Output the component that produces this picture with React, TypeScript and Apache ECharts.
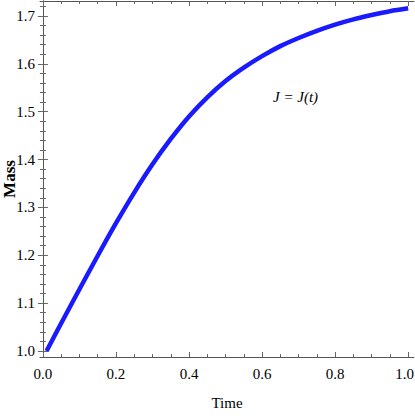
import React, { useEffect, useRef } from "react";
import * as echarts from "echarts";

const times = [0.01, 0.05, 0.1, 0.15, 0.2, 0.25, 0.3, 0.35, 0.4, 0.45, 0.5, 0.55, 0.6, 0.65, 0.7, 0.75, 0.8, 0.85, 0.9, 0.95, 1.0];
const mass = [1.0, 1.058, 1.129, 1.199, 1.267, 1.331, 1.39, 1.443, 1.49, 1.53, 1.564, 1.592, 1.616, 1.637, 1.654, 1.669, 1.682, 1.693, 1.702, 1.71, 1.716];

const xMajorTicks = [0, 0.2, 0.4, 0.6, 0.8, 1.0];
const xMinorTicks = [0.05, 0.1, 0.15, 0.25, 0.3, 0.35, 0.45, 0.5, 0.55, 0.65, 0.7, 0.75, 0.85, 0.9, 0.95];
const yMajorTicks = [1.0, 1.1, 1.2, 1.3, 1.4, 1.5, 1.6, 1.7];
const yMinorTicks = [
  1.02, 1.04, 1.06, 1.08, 1.12, 1.14, 1.16, 1.18, 1.22, 1.24, 1.26, 1.28,
  1.32, 1.34, 1.36, 1.38, 1.42, 1.44, 1.46, 1.48, 1.52, 1.54, 1.56, 1.58,
  1.62, 1.64, 1.66, 1.68, 1.72,
];

const xName = "Time";
const yName = "Mass";
const curveLabel = "J = J(t)";

const FONT = "Liberation Serif";
const FRAME = "#555555";
const TICK = "#666666";

const X_MIN = -0.008;
const X_MAX = 1.016;
const Y_MIN = 0.9875;
const Y_MAX = 1.7313;

export default function App() {
  const ref = useRef<HTMLDivElement>(null);

  useEffect(() => {
    if (!ref.current) return;
    const chart = echarts.init(ref.current, null, { renderer: "svg" });

    const baseX = (extra: any) => ({
      type: "value",
      min: X_MIN,
      max: X_MAX,
      splitLine: { show: false },
      ...extra,
    });
    const baseY = (extra: any) => ({
      type: "value",
      min: Y_MIN,
      max: Y_MAX,
      splitLine: { show: false },
      ...extra,
    });

    const hiddenLabel = { show: false };
    const richStyles = {
      s: { fontFamily: FONT, fontSize: 15, color: "#000" },
      e: { fontFamily: FONT, fontSize: 15, color: "#000", padding: [0, 7, 0, 0] },
    };

    chart.setOption({
      animation: false,
      backgroundColor: "#ffffff",
      textStyle: { fontFamily: FONT },
      grid: {
        left: 40,
        right: 1,
        top: 1,
        bottom: 59,
        containLabel: false,
        outerBoundsMode: "none",
      },
      xAxis: [
        baseX({
          position: "bottom",
          axisLine: { show: true, lineStyle: { color: FRAME, width: 1 } },
          axisTick: { show: true, inside: true, length: 5, customValues: xMajorTicks, lineStyle: { color: TICK } },
          axisLabel: {
            show: true,
            customValues: xMajorTicks,
            margin: 9,
            fontFamily: FONT,
            fontSize: 15,
            color: "#000",
            formatter: (v: number) =>
              (v === xMajorTicks[xMajorTicks.length - 1] ? "{e|" : "{s|") + v.toFixed(1) + "}",
            rich: richStyles,
          },
          name: xName,
          nameLocation: "middle",
          nameGap: 38,
          nameTextStyle: { fontFamily: FONT, fontSize: 15, color: "#000" },
        }),
        baseX({
          position: "bottom",
          axisLine: { show: false },
          axisTick: { show: true, inside: true, length: 3, customValues: xMinorTicks, lineStyle: { color: TICK } },
          axisLabel: hiddenLabel,
        }),
        baseX({
          position: "top",
          axisLine: { show: true, lineStyle: { color: FRAME, width: 1 } },
          axisTick: { show: true, inside: true, length: 5, customValues: xMajorTicks, lineStyle: { color: TICK } },
          axisLabel: hiddenLabel,
        }),
        baseX({
          position: "top",
          axisLine: { show: false },
          axisTick: { show: true, inside: true, length: 3, customValues: xMinorTicks, lineStyle: { color: TICK } },
          axisLabel: hiddenLabel,
        }),
      ],
      yAxis: [
        baseY({
          position: "left",
          axisLine: { show: true, lineStyle: { color: FRAME, width: 1 } },
          axisTick: { show: true, inside: true, length: 5, customValues: yMajorTicks, lineStyle: { color: TICK } },
          axisLabel: {
            show: true,
            customValues: yMajorTicks,
            margin: 5,
            fontFamily: FONT,
            fontSize: 15,
            color: "#000",
            formatter: (v: number) => "{s|" + v.toFixed(1) + "}",
            rich: richStyles,
          },
        }),
        baseY({
          position: "left",
          axisLine: { show: false },
          axisTick: { show: true, inside: true, length: 3, customValues: yMinorTicks, lineStyle: { color: TICK } },
          axisLabel: hiddenLabel,
        }),
        baseY({
          position: "right",
          axisLine: { show: true, lineStyle: { color: FRAME, width: 1 } },
          axisTick: { show: true, inside: true, length: 5, customValues: yMajorTicks, lineStyle: { color: TICK } },
          axisLabel: hiddenLabel,
        }),
        baseY({
          position: "right",
          axisLine: { show: false },
          axisTick: { show: true, inside: true, length: 3, customValues: yMinorTicks, lineStyle: { color: TICK } },
          axisLabel: hiddenLabel,
        }),
      ],
      graphic: [
        {
          type: "text",
          x: 9,
          y: 179,
          rotation: Math.PI / 2,
          style: {
            text: yName,
            fontFamily: FONT,
            fontSize: 17,
            fontWeight: "bold",
            fill: "#000",
            align: "center",
            verticalAlign: "middle",
          },
        },
        {
          type: "text",
          left: 273,
          top: 89,
          style: {
            text: curveLabel,
            fontFamily: FONT,
            fontSize: 15,
            fontStyle: "italic",
            fill: "#000",
          },
        },
      ],
      series: [
        {
          type: "line",
          xAxisIndex: 0,
          yAxisIndex: 0,
          data: times.map((t, i) => [t, mass[i]]),
          smooth: 0.3,
          showSymbol: false,
          symbol: "none",
          lineStyle: { color: "#1a1aff", width: 4.5, cap: "butt" },
          clip: true,
        },
      ],
    });

    return () => chart.dispose();
  }, []);

  return (
    <div
      ref={ref}
      style={{ position: "absolute", left: 0, top: 0, width: 415, height: 416 }}
    />
  );
}
